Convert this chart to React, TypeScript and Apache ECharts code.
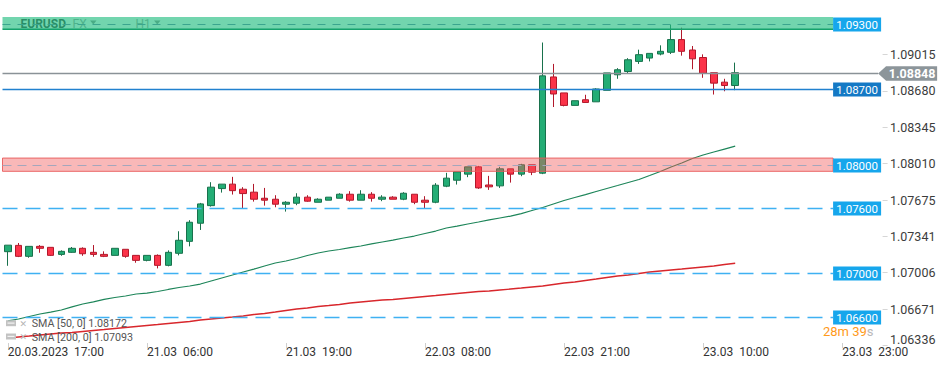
import React, { useEffect, useRef } from "react";
import * as echarts from "echarts";

// ---------------- data ----------------
const symbolName = "EURUSD";
const marketName = "FX";
const periodName = "H1";

// hourly slots of the time axis, starting 20.03.2023 17:00
const startTimeUtc = Date.UTC(2023, 2, 20, 17, 0);
const slotCount = 82;
const two = (n: number) => String(n).padStart(2, "0");
const timeSlots: string[] = [];
for (let i = 0; i < slotCount; i++) {
  const d = new Date(startTimeUtc + i * 3600000);
  timeSlots.push(`${two(d.getUTCDate())}.${two(d.getUTCMonth() + 1)} ${two(d.getUTCHours())}:00`);
}

const xTickIndex = [0, 13, 26, 39, 52, 65, 78];
const xTickText = [
  "20.03.2023  17:00",
  "21.03  06:00",
  "21.03  19:00",
  "22.03  08:00",
  "22.03  21:00",
  "23.03  10:00",
  "23.03  23:00",
];

const yTickValues = [1.06336, 1.06671, 1.07006, 1.07341, 1.07675, 1.0801, 1.08345, 1.0868, 1.09015];
const yMin = 1.06336;
const yMax = 1.09361;

const opens = [
  1.0720, 1.07258, 1.07157, 1.07249, 1.0724, 1.07175, 1.07194, 1.07231, 1.07194, 1.07175,
  1.07166, 1.07222, 1.07166, 1.0712, 1.07166, 1.07074, 1.07185, 1.07295, 1.07462, 1.07624,
  1.07781, 1.07822, 1.07775, 1.07748, 1.07692, 1.07683, 1.07637, 1.07646, 1.07702, 1.07655,
  1.07674, 1.07692, 1.07729, 1.07674, 1.07729, 1.07683, 1.07702, 1.07683, 1.07729, 1.07674,
  1.07655, 1.07803, 1.07858, 1.07914, 1.07981, 1.07814, 1.07806, 1.07963, 1.07914, 1.0800,
  1.07923, 1.08809, 1.08662, 1.08547, 1.08599, 1.0858, 1.08686, 1.08829, 1.08859, 1.08952,
  1.08983, 1.0902, 1.09036, 1.09153, 1.09057, 1.08988, 1.08848, 1.08761, 1.0873,
];
const closes = [
  1.0726, 1.07157, 1.07249, 1.07231, 1.07166, 1.07203, 1.07231, 1.07181, 1.07175, 1.07157,
  1.07231, 1.07157, 1.0712, 1.07166, 1.07074, 1.07194, 1.07305, 1.07471, 1.0764, 1.07794,
  1.07822, 1.07762, 1.07735, 1.07683, 1.07674, 1.07637, 1.07655, 1.07702, 1.07665, 1.07683,
  1.07702, 1.07729, 1.07674, 1.07729, 1.07692, 1.07702, 1.07683, 1.07738, 1.07655, 1.07655,
  1.07812, 1.07877, 1.07935, 1.07981, 1.07787, 1.07797, 1.07963, 1.07914, 1.0800, 1.07932,
  1.08819, 1.08652, 1.08547, 1.0859, 1.08574, 1.08698, 1.08846, 1.08875, 1.08967, 1.09014,
  1.09026, 1.09045, 1.09153, 1.09045, 1.08976, 1.08843, 1.08752, 1.0873, 1.08848,
];
const lows = [
  1.0707, 1.0715, 1.07144, 1.0719, 1.0716, 1.07162, 1.0719, 1.07162, 1.07153, 1.0715,
  1.07166, 1.07144, 1.07098, 1.07111, 1.07046, 1.07065, 1.07166, 1.07249, 1.074, 1.07615,
  1.07744, 1.07726, 1.076, 1.07661, 1.07624, 1.07609, 1.07569, 1.07628, 1.0766, 1.07655,
  1.07674, 1.07692, 1.07661, 1.07674, 1.07661, 1.07665, 1.07683, 1.07674, 1.07637, 1.07596,
  1.07646, 1.07794, 1.07818, 1.07886, 1.07778, 1.07769, 1.07787, 1.07836, 1.07895, 1.07905,
  1.07914, 1.08532, 1.08538, 1.08547, 1.08574, 1.0858, 1.08686, 1.08792, 1.08838, 1.08929,
  1.08952, 1.09008, 1.0902, 1.09005, 1.0888, 1.08801, 1.08647, 1.08677, 1.08687,
];
const highs = [
  1.0726, 1.0728, 1.0725, 1.07261, 1.0724, 1.07212, 1.07243, 1.0724, 1.07261, 1.07203,
  1.07231, 1.07222, 1.07166, 1.07166, 1.07175, 1.07212, 1.07388, 1.0749, 1.07649, 1.0784,
  1.07822, 1.07889, 1.07794, 1.07824, 1.07787, 1.0772, 1.07665, 1.07738, 1.0772, 1.07692,
  1.07702, 1.07738, 1.07757, 1.07766, 1.07748, 1.0772, 1.07711, 1.07748, 1.07729, 1.07711,
  1.07831, 1.07926, 1.07935, 1.07981, 1.0799, 1.07898, 1.07981, 1.07963, 1.08009, 1.0800,
  1.09126, 1.08929, 1.08662, 1.0859, 1.08645, 1.08705, 1.08846, 1.0889, 1.08982, 1.0906,
  1.09026, 1.091, 1.09291, 1.09263, 1.09094, 1.09017, 1.08848, 1.08792, 1.08941,
];

const sma50 = [
  1.06562, 1.0658, 1.06603, 1.06626, 1.06644, 1.06663, 1.06691, 1.06718, 1.06737, 1.0676,
  1.06778, 1.06792, 1.0681, 1.06819, 1.06833, 1.06852, 1.0687, 1.06884, 1.06902, 1.0693,
  1.06958, 1.06985, 1.07013, 1.0704, 1.07068, 1.07096, 1.07114, 1.07137, 1.07165, 1.07188,
  1.07206, 1.0722, 1.07238, 1.07252, 1.07271, 1.07289, 1.07307, 1.07326, 1.07344, 1.07367,
  1.0739, 1.07418, 1.07436, 1.07455, 1.07473, 1.07492, 1.0751, 1.07528, 1.07551, 1.07579,
  1.07607, 1.07639, 1.07671, 1.07699, 1.07726, 1.07754, 1.07782, 1.07809, 1.07837, 1.07865,
  1.07901, 1.07938, 1.0798, 1.08016, 1.08058, 1.0809, 1.08118, 1.08145, 1.08172,
];
const sma200 = [
  1.06405, 1.06414, 1.06423, 1.06433, 1.06442, 1.06451, 1.06456, 1.06465, 1.06474, 1.06483,
  1.06493, 1.06502, 1.06511, 1.0652, 1.06529, 1.06539, 1.06548, 1.06557, 1.06571, 1.0658,
  1.06589, 1.06598, 1.06608, 1.06621, 1.06631, 1.06644, 1.06658, 1.06672, 1.06681, 1.06695,
  1.06704, 1.06714, 1.06727, 1.06737, 1.06746, 1.06755, 1.0676, 1.06769, 1.06778, 1.06787,
  1.06796, 1.06806, 1.06815, 1.06824, 1.06833, 1.06838, 1.06847, 1.06856, 1.06865, 1.06875,
  1.06884, 1.06898, 1.06911, 1.06921, 1.06935, 1.06948, 1.06962, 1.06976, 1.06985, 1.06999,
  1.07013, 1.07022, 1.07031, 1.0704, 1.0705, 1.07059, 1.07068, 1.07082, 1.07093,
];

const levelPrices = [1.093, 1.087, 1.08, 1.076, 1.07, 1.066];
const greenZone = [1.09248, 1.0937];
const redZone = [1.0794, 1.08062];
const currentPrice = 1.08848;
const smaNames = ["SMA [50, 0]", "SMA [200, 0]"];
const smaLast = [1.08172, 1.07093];
const timerMain = "28m 39";
const timerTail = "s";

// ---------------- styles ----------------
const FONT = "Roboto, 'Noto Sans', sans-serif";
const levelLook = [
  { color: "#3aa58e", width: 1, dash: [8, 7], box: "#16a6ec" },
  { color: "#2181cf", width: 1.5, dash: null, box: "#1479c5" },
  { color: "#a4a6bc", width: 1, dash: [9, 6], box: "#16a6ec" },
  { color: "#3fb1f2", width: 1.3, dash: [15, 8], box: "#16a6ec" },
  { color: "#3fb1f2", width: 1.3, dash: [15, 8], box: "#16a6ec" },
  { color: "#3fb1f2", width: 1.3, dash: [15, 8], box: "#16a6ec" },
];
const zoneLook = [
  { fill: "rgba(38,190,130,0.65)", stroke: null, bottomLine: "#15a26c" },
  { fill: "rgba(240,85,85,0.42)", stroke: "rgba(232,90,90,0.9)", bottomLine: null },
];

export default function App() {
  const ref = useRef<HTMLDivElement>(null);

  useEffect(() => {
    document.body.style.margin = "0";
    if (!ref.current) return;
    const chart = echarts.init(ref.current, undefined, { renderer: "svg" });

    const candleData = opens.map((o, i) => [o, closes[i], lows[i], highs[i]]);
    const lastIdx = closes.length - 1;

    const levelLineSeries = {
      name: "levelLines",
      type: "custom",
      z: 6,
      data: levelPrices.map((p, i) => [i, p]),
      encode: { x: 0, y: 1 },
      renderItem: (params: any, api: any) => {
        const cs = params.coordSys;
        const look = levelLook[params.dataIndex];
        const p = api.value(1) as number;
        const y = Math.round(api.coord([0, p])[1]) + 0.5;
        const boxX = cs.x + cs.width - 46.5;
        return {
          type: "polyline",
          shape: { points: [[cs.x, y], [boxX, y]] },
          style: look.dash
            ? { stroke: look.color, lineWidth: look.width, fill: "none", lineDash: look.dash }
            : { stroke: look.color, lineWidth: look.width, fill: "none" },
        };
      },
    };

    const levelBoxSeries = {
      name: "levelBoxes",
      type: "custom",
      z: 7,
      data: levelPrices.map((p, i) => [i, p]),
      encode: { x: 0, y: 1 },
      renderItem: (params: any, api: any) => {
        const cs = params.coordSys;
        const look = levelLook[params.dataIndex];
        const p = api.value(1) as number;
        const y = Math.round(api.coord([0, p])[1]) + 0.5;
        const boxX = cs.x + cs.width - 46.5;
        return {
          type: "group",
          children: [
            { type: "rect", shape: { x: boxX, y: y - 7, width: 48, height: 14 }, style: { fill: look.box } },
            {
              type: "text",
              z2: 2,
              x: boxX + 24,
              y: y,
              style: { text: p.toFixed(5), fill: "#ffffff", font: `11.5px ${FONT}`, align: "center", verticalAlign: "middle" },
            },
          ],
        };
      },
    };

    const option: any = {
      animation: false,
      backgroundColor: "#ffffff",
      textStyle: { fontFamily: FONT },
      grid: { left: 2.5, right: 69.4, top: 17, bottom: 24.5, containLabel: false, outerBoundsMode: "none" },
      xAxis: {
        type: "category",
        data: timeSlots,
        boundaryGap: true,
        offset: -2.5,
        axisLine: { show: false },
        axisTick: {
          show: true,
          alignWithLabel: true,
          length: 5,
          interval: (idx: number) => xTickIndex.includes(idx),
          lineStyle: { color: "#cfcfcf", width: 1 },
        },
        axisLabel: {
          show: true,
          interval: (idx: number) => xTickIndex.includes(idx),
          formatter: (_v: string, idx: number) => {
            const k = xTickIndex.indexOf(idx);
            return k >= 0 ? xTickText[k] : "";
          },
          align: "left",
          margin: 2.5,
          color: "#333333",
          fontSize: 12,
          fontFamily: FONT,
          hideOverlap: false,
        },
        splitLine: { show: false },
        splitArea: { show: false },
      },
      yAxis: {
        type: "value",
        position: "right",
        min: yMin,
        max: yMax,
        scale: true,
        offset: 3,
        axisLine: { show: false },
        axisTick: { show: true, length: 5, customValues: yTickValues, lineStyle: { color: "#d6d6d6" } },
        axisLabel: {
          show: true,
          customValues: yTickValues,
          formatter: (v: number) => v.toFixed(5),
          margin: 7.4,
          color: "#3c3c3c",
          fontSize: 12.5,
          fontFamily: FONT,
          verticalAlignMinLabel: "bottom",
          showMinLabel: true,
          showMaxLabel: true,
        },
        splitLine: { show: false },
        splitArea: { show: false },
      },
      graphic: {
        elements: [
          { type: "text", x: 20.5, y: 24, z: 1, style: { text: symbolName, fill: "#333333", font: `bold 12px ${FONT}`, verticalAlign: "middle", textVerticalAlign: "middle" } },
          { type: "text", x: 72.5, y: 24, z: 1, style: { text: marketName, fill: "#9a9a9a", font: `12px ${FONT}`, verticalAlign: "middle", textVerticalAlign: "middle" } },
          { type: "polygon", z: 1, shape: { points: [[90, 20.5], [96.5, 20.5], [93.25, 24.5]] }, style: { fill: "#8a8a8a" } },
          { type: "text", x: 135.5, y: 24, z: 1, style: { text: periodName, fill: "#9a9a9a", font: `12px ${FONT}`, verticalAlign: "middle", textVerticalAlign: "middle" } },
          { type: "polygon", z: 1, shape: { points: [[154, 20.5], [160.5, 20.5], [157.25, 24.5]] }, style: { fill: "#8a8a8a" } },
          {
            type: "text", x: 823, y: 331.5, z: 4.8,
            style: {
              text: `{o|${timerMain}}{g|${timerTail}}`,
              font: `13px ${FONT}`,
              verticalAlign: "middle", textVerticalAlign: "middle",
              rich: { o: { fill: "#ff9a1a", font: `13px ${FONT}` }, g: { fill: "#b8b8b8", font: `13px ${FONT}` } },
            },
          },
          ...smaNames.flatMap((name, r) => {
            const y = r === 0 ? 323.7 : 337;
            return [
              { type: "rect", z: 10, shape: { x: 6, y: y - 3.5, width: 10, height: 6 }, style: { fill: "#c2c2c2" } },
              { type: "rect", z: 10, shape: { x: 7.5, y: y - 1.2, width: 7, height: 1.2 }, style: { fill: "#f2f2f2" } },
              { type: "text", x: 19.5, y: y, z: 10, style: { text: "✕", fill: "#b5b5b5", font: `bold 9px 'DejaVu Sans'`, verticalAlign: "middle", textVerticalAlign: "middle" } },
              { type: "text", x: 31.7, y: y, z: 10, style: { text: `${name} ${smaLast[r].toFixed(5)}`, fill: "#555555", font: `10.7px ${FONT}`, verticalAlign: "middle", textVerticalAlign: "middle" } },
            ];
          }),
        ],
      },
      series: [
        {
          name: "EURUSD",
          type: "candlestick",
          data: candleData,
          barWidth: 7,
          z: 2,
          itemStyle: {
            color: "#23ad75",
            color0: "#fb3349",
            borderColor: "#18714c",
            borderColor0: "#b2182b",
            borderWidth: 1,
          },
        },
        {
          name: smaNames[0],
          type: "line",
          data: sma50,
          showSymbol: false,
          z: 3,
          lineStyle: { color: "#1d8559", width: 1.2 },
        },
        {
          name: smaNames[1],
          type: "line",
          data: sma200,
          showSymbol: false,
          z: 3,
          lineStyle: { color: "#d8272c", width: 1.4 },
        },
        {
          name: "zones",
          type: "custom",
          z: 4,
          data: [[0, greenZone[0], greenZone[1]], [0, redZone[0], redZone[1]]],
          encode: { x: 0, y: [1, 2] },
          renderItem: (params: any, api: any) => {
            const cs = params.coordSys;
            const look = zoneLook[params.dataIndex];
            const yTop = Math.max(cs.y, api.coord([0, api.value(2)])[1]);
            const yBot = api.coord([0, api.value(1)])[1];
            const x1 = cs.x;
            const x2 = cs.x + cs.width - 46.5;
            const children: any[] = [
              {
                type: "rect",
                shape: { x: x1, y: yTop, width: x2 - x1, height: yBot - yTop },
                style: { fill: look.fill, stroke: look.stroke || undefined, lineWidth: look.stroke ? 1 : 0 },
              },
            ];
            if (look.bottomLine) {
              children.push({ type: "line", shape: { x1, y1: yBot, x2, y2: yBot }, style: { stroke: look.bottomLine, lineWidth: 1.5 } });
            }
            return { type: "group", children };
          },
        },
        {
          name: "current",
          type: "custom",
          z: 4.5,
          data: [[lastIdx, currentPrice]],
          encode: { x: 0, y: 1 },
          renderItem: (params: any, api: any) => {
            const cs = params.coordSys;
            const price = api.value(1) as number;
            const y = Math.round(api.coord([0, price])[1]) + 0.5;
            const tip = cs.x + cs.width - 1.5;
            return {
              type: "group",
              children: [
                { type: "line", shape: { x1: cs.x, y1: y, x2: tip, y2: y }, style: { stroke: "#8a9297", lineWidth: 1.5 } },
                {
                  type: "polygon",
                  z2: 5,
                  shape: { points: [[tip, y], [tip + 8, y - 7.3], [tip + 59, y - 7.3], [tip + 59, y + 7.3], [tip + 8, y + 7.3]] },
                  style: { fill: "#8c959a" },
                },
                {
                  type: "text",
                  z2: 6,
                  x: tip + 34,
                  y: y,
                  style: { text: price.toFixed(5), fill: "#ffffff", font: `bold 12.5px ${FONT}`, align: "center", verticalAlign: "middle" },
                },
              ],
            };
          },
        },
        levelLineSeries,
        levelBoxSeries,
      ],
    };

    chart.setOption(option);
    return () => {
      chart.dispose();
    };
  }, []);

  return <div ref={ref} style={{ width: 949, height: 370 }} />;
}
